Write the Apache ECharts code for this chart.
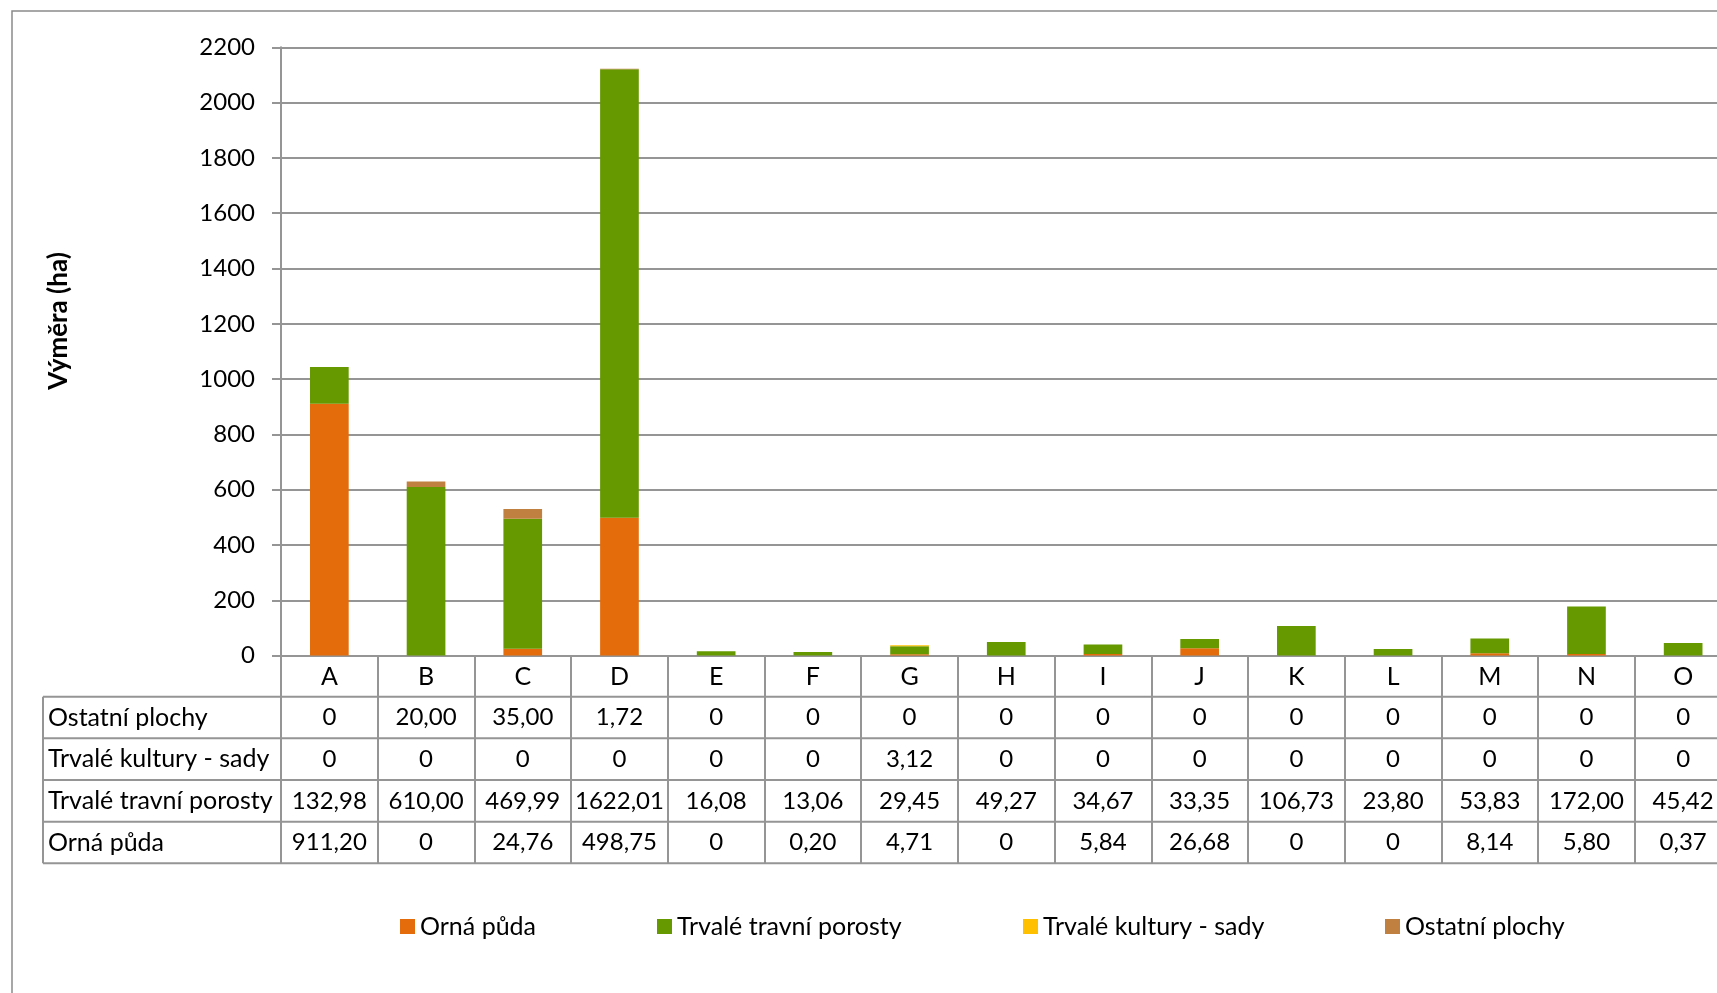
<!DOCTYPE html>
<html>
<head>
<meta charset="utf-8">
<script src="https://cdn.jsdelivr.net/npm/echarts@6/dist/echarts.min.js"></script>
<style>
  html, body { margin: 0; padding: 0; background: #fff; overflow: hidden; }
  #chart { width: 1760px; height: 993px; }
</style>
</head>
<body>
<div id="chart"></div>
<script>
// Land use by area (ha), stacked per locality, with a data table beneath
const categories = ['A', 'B', 'C', 'D', 'E', 'F', 'G', 'H', 'I', 'J', 'K', 'L', 'M', 'N', 'O'];
const ornaPuda = [911.20, 0, 24.76, 498.75, 0, 0.20, 4.71, 0, 5.84, 26.68, 0, 0, 8.14, 5.80, 0.37];
const travniPorosty = [132.98, 610.00, 469.99, 1622.01, 16.08, 13.06, 29.45, 49.27, 34.67, 33.35, 106.73, 23.80, 53.83, 172.00, 45.42];
const kulturySady = [0, 0, 0, 0, 0, 0, 3.12, 0, 0, 0, 0, 0, 0, 0, 0];
const ostatniPlochy = [0, 20.00, 35.00, 1.72, 0, 0, 0, 0, 0, 0, 0, 0, 0, 0, 0];
const seriesNames = ['Orná půda', 'Trvalé travní porosty', 'Trvalé kultury - sady', 'Ostatní plochy'];
const yTicks = { min: 0, max: 2200, step: 200 };

const colors = ['#E46C0A', '#669900', '#FFC000', '#C0803F'];
const FONT = 'Lato, "Open Sans", sans-serif';
const FS = 25;      // words
const FS_NUM = 24;  // figures
const LINE = '#959595';

// layout (the chart frame runs past the right edge of the window)
const containerW = 1760;
const plotLeft = 281, plotTop = 47.3, axisY = 655.6, plotRight = 1731.5;
const catRowH = 41.1, rowH = 41.65;
const tableLeft = 43;
const tableTop = axisY + catRowH;
const tableBottom = tableTop + 4 * rowH;

// table rows, top to bottom
const tableRows = [
  { name: 'Ostatní plochy', values: ostatniPlochy },
  { name: 'Trvalé kultury - sady', values: kulturySady },
  { name: 'Trvalé travní porosty', values: travniPorosty },
  { name: 'Orná půda', values: ornaPuda }
];
const fmt = v => v === 0 ? '0' : v.toFixed(2).replace('.', ',');

const xAxes = [{
  type: 'category',
  data: categories,
  gridIndex: 0,
  position: 'bottom',
  axisLine: { show: true, lineStyle: { color: LINE, width: 2 } },
  axisTick: { show: true, alignWithLabel: false, interval: 0, length: tableBottom - axisY, lineStyle: { color: LINE, width: 2 } },
  axisLabel: { interval: 0, margin: 1, color: '#000', fontFamily: FONT, fontSize: FS, lineHeight: catRowH, verticalAlign: 'top' }
}];
tableRows.forEach((row, k) => {
  xAxes.push({
    type: 'category',
    data: categories,
    gridIndex: 0,
    position: 'bottom',
    offset: catRowH + k * rowH,
    axisLine: { show: false },
    axisTick: { show: false },
    axisLabel: {
      interval: 0, margin: 0, color: '#000', fontFamily: FONT, fontSize: FS_NUM,
      lineHeight: rowH, verticalAlign: 'top',
      formatter: (val, idx) => fmt(row.values[idx])
    }
  });
});

const seriesData = [ornaPuda, travniPorosty, kulturySady, ostatniPlochy];

const graphics = [
  { type: 'rect', silent: true, shape: { x: 12, y: 11, width: 1900, height: 1200 },
    style: { fill: 'none', stroke: '#8a8a8a', lineWidth: 1.5 } },
  { type: 'text', silent: true, x: 59, y: 321, rotation: Math.PI / 2,
    style: { text: 'Výměra (ha)', fontFamily: FONT, fontSize: 26, fontWeight: 'bold', fill: '#000', align: 'center', verticalAlign: 'middle' } },
  { type: 'line', silent: true, shape: { x1: tableLeft, y1: tableTop, x2: tableLeft, y2: tableBottom },
    style: { stroke: LINE, lineWidth: 2 } }
];
for (let i = 0; i <= 4; i++) {
  const y = tableTop + i * rowH;
  graphics.push({ type: 'line', silent: true, shape: { x1: tableLeft, y1: y, x2: containerW, y2: y },
    style: { stroke: LINE, lineWidth: 2 } });
}
tableRows.forEach((row, k) => {
  graphics.push({ type: 'text', silent: true, x: tableLeft + 5, y: tableTop + k * rowH + rowH / 2,
    style: { text: row.name, fontFamily: FONT, fontSize: FS, fill: '#000', align: 'left', verticalAlign: 'middle' } });
});

const legendLefts = [400, 657, 1023, 1385];
const legends = seriesNames.map((n, i) => ({
  data: [n], left: legendLefts[i], top: 914, padding: 0, orient: 'horizontal',
  icon: 'rect', itemWidth: 15, itemHeight: 15, selectedMode: false,
  textStyle: { fontFamily: FONT, fontSize: FS, color: '#000' }
}));

const chart = echarts.init(document.getElementById('chart'), null, { renderer: 'canvas' });
chart.setOption({
  animation: false,
  color: colors,
  textStyle: { fontFamily: FONT },
  grid: { left: plotLeft, top: plotTop, right: containerW - plotRight, bottom: 993 - axisY, containLabel: false },
  legend: legends,
  xAxis: xAxes,
  yAxis: {
    type: 'value', min: yTicks.min, max: yTicks.max, interval: yTicks.step,
    axisLine: { show: true, lineStyle: { color: LINE, width: 2 } },
    axisTick: { show: true, length: 9, lineStyle: { color: LINE, width: 2 } },
    axisLabel: { margin: 26, color: '#000', fontFamily: FONT, fontSize: FS_NUM, formatter: v => String(v) },
    splitLine: { show: true, lineStyle: { color: LINE, width: 2 } }
  },
  series: seriesNames.map((n, i) => ({
    name: n, type: 'bar', stack: 'total', barWidth: '40%',
    data: seriesData[i],
    itemStyle: { color: colors[i] }
  })),
  graphic: graphics
});
</script>
</body>
</html>
